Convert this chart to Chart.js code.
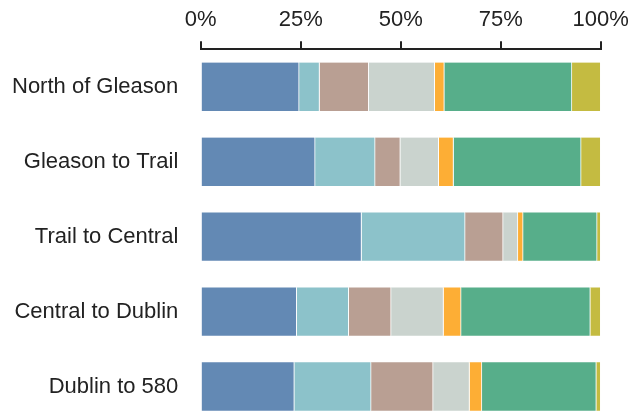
<!DOCTYPE html>
<html>
<head>
<meta charset="utf-8">
<script src="https://cdn.jsdelivr.net/npm/chart.js@4"></script>
<style>
html, body { margin: 0; padding: 0; background: #fff; overflow: hidden; }
#wrap { position: relative; width: 632px; height: 424px; }
</style>
</head>
<body>
<div id="wrap"><canvas id="c"></canvas></div>
<script>
const categories = ["North of Gleason", "Gleason to Trail", "Trail to Central", "Central to Dublin", "Dublin to 580"];
const seriesNames = ["Segment 1", "Segment 2", "Segment 3", "Segment 4", "Segment 5", "Segment 6", "Segment 7"];
const s1 = [24.6, 28.6, 40.2, 24.0, 23.4];
const s2 = [5.1, 15.0, 25.9, 13.0, 19.2];
const s3 = [12.3, 6.3, 9.5, 10.6, 15.5];
const s4 = [16.5, 9.6, 3.7, 13.1, 9.1];
const s5 = [2.4, 3.7, 1.3, 4.4, 3.1];
const s6 = [31.9, 31.9, 18.5, 32.3, 28.6];
const s7 = [7.2, 4.9, 0.9, 2.6, 1.1];
const tickValues = [0, 25, 50, 75, 100];
const colors = ["#6389b4", "#8cc2ca", "#b99f93", "#cad3ce", "#fdae35", "#57ae8a", "#c4bb41"];

const seriesValues = [s1, s2, s3, s4, s5, s6, s7];
const datasets = seriesValues.map((vals, i) => ({
  label: seriesNames[i],
  data: vals,
  backgroundColor: colors[i],
  borderColor: "#ffffff",
  borderWidth: { left: 0, right: 1, top: 0, bottom: 0 },
  borderSkipped: false,
  barThickness: 48.4
}));

new Chart(document.getElementById("c"), {
  type: "bar",
  data: { labels: categories, datasets },
  options: {
    indexAxis: "y",
    responsive: true,
    maintainAspectRatio: false,
    animation: false,
    layout: { padding: { left: 0, right: 31.3, top: 0, bottom: 0 } },
    plugins: { legend: { display: false }, tooltip: { enabled: false } },
    scales: {
      x: {
        position: "top",
        stacked: true,
        min: 0,
        max: 100,
        afterBuildTicks: (scale) => { scale.ticks = tickValues.map(v => ({ value: v })); },
        afterFit: (scale) => { scale.height = 49.3; scale.paddingLeft = 0; scale.paddingRight = 0; },
        ticks: {
          callback: (v) => v + "%",
          font: { family: "Liberation Sans", size: 22 },
          color: "#222",
          padding: 8,
          maxRotation: 0
        },
        grid: { drawOnChartArea: false, drawTicks: true, tickLength: 8, color: "#222", lineWidth: 2 },
        border: { display: true, color: "#222", width: 2 }
      },
      y: {
        stacked: true,
        afterFit: (scale) => { scale.width = 200.7; scale.paddingTop = 0; scale.paddingBottom = 0; },
        ticks: {
          font: { family: "Liberation Sans", size: 22 },
          color: "#222",
          padding: 22.4
        },
        grid: { display: false, drawTicks: false },
        border: { display: false }
      }
    }
  }
});
</script>
</body>
</html>
